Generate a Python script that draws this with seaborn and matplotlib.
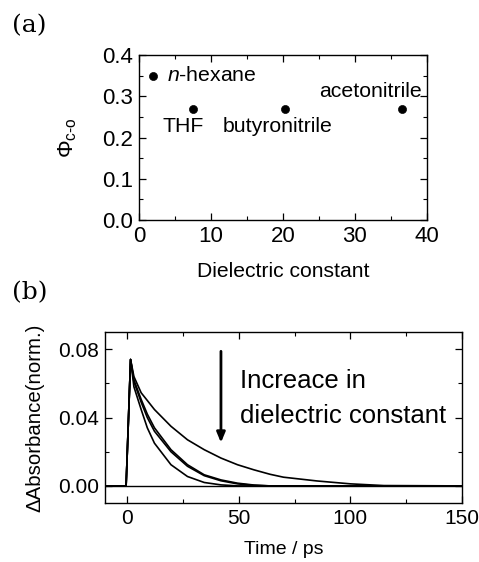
"""
two panels: quantum yield vs dielectric constant, and normalised transient absorption decays
"""

import numpy as np
import pandas as pd
import matplotlib
matplotlib.use("Agg")
import matplotlib.pyplot as plt
import seaborn as sns
from matplotlib.ticker import MultipleLocator

# panel (a) data
solvents = ["n-hexane", "THF", "butyronitrile", "acetonitrile"]
dielectric = [1.9, 7.5, 20.3, 36.6]
phi_co = [0.35, 0.27, 0.27, 0.27]

# panel (b) data
time_ps = [-10, -0.5, 1.5, 3, 6.25, 9, 12.2, 19.6, 27, 34.5, 42, 49.4, 56.8, 64, 70, 85, 100, 115, 150]
trace_hexane = [0, 0, 0.074, 0.064, 0.0545, 0.050, 0.0447, 0.0349, 0.027, 0.0212, 0.0163, 0.0124, 0.0094, 0.0068, 0.0051, 0.0029, 0.0012, 0.0002, 0]
trace_thf = [0, 0, 0.074, 0.062, 0.0506, 0.042, 0.034, 0.0212, 0.0124, 0.0065, 0.0035, 0.0016, 0.0005, 0, 0, 0, 0, 0, 0]
trace_butyro = [0, 0, 0.074, 0.061, 0.049, 0.040, 0.032, 0.020, 0.0115, 0.006, 0.003, 0.0012, 0.0003, 0, 0, 0, 0, 0, 0]
trace_aceto = [0, 0, 0.074, 0.058, 0.0447, 0.034, 0.025, 0.0124, 0.0055, 0.002, 0.0006, 0, 0, 0, 0, 0, 0, 0, 0]

sns.set_style("ticks")
plt.rcParams['font.family'] = ['Liberation Sans', 'DejaVu Sans']
plt.rcParams['mathtext.fontset'] = 'custom'
plt.rcParams['mathtext.rm'] = 'Liberation Sans'
plt.rcParams['mathtext.it'] = 'Liberation Sans:italic'
for key in ['text.color', 'axes.labelcolor', 'xtick.color', 'ytick.color', 'axes.edgecolor']:
    plt.rcParams[key] = 'black'

fig = plt.figure(figsize=(4.79, 5.62), dpi=100)
ax1 = fig.add_axes([0.290, 0.6085, 0.601, 0.2936])
ax2 = fig.add_axes([0.219, 0.105, 0.7455, 0.304])

# ---- panel (a)
dfa = pd.DataFrame({"solvent": solvents, "eps": dielectric, "phi": phi_co})
sns.scatterplot(data=dfa, x="eps", y="phi", ax=ax1, color="black", s=34, edgecolor="black", zorder=3)
ax1.set_xlim(0, 40)
ax1.set_ylim(0, 0.4)
ax1.xaxis.set_major_locator(MultipleLocator(10))
ax1.xaxis.set_minor_locator(MultipleLocator(5))
ax1.yaxis.set_major_locator(MultipleLocator(0.1))
ax1.yaxis.set_minor_locator(MultipleLocator(0.05))
ax1.yaxis.set_major_formatter(matplotlib.ticker.FormatStrFormatter('%.1f'))
ax1.set_xlabel("Dielectric constant", fontsize=15.2, labelpad=11)
ax1.set_ylabel("$\\Phi_{\\rm c\u2010o}$", fontsize=16, labelpad=17)

ax1.text(3.9, 0.35, "$\\it{n}$-hexane", fontsize=15.3, va="center", ha="left")
ax1.text(3.3, 0.226, "THF", fontsize=15.3, va="center", ha="left")
ax1.text(11.6, 0.226, "butyronitrile", fontsize=15.3, va="center", ha="left")
ax1.text(39.3, 0.311, "acetonitrile", fontsize=15.3, va="center", ha="right")

# ---- panel (b)
dfb = pd.DataFrame({
    "t": time_ps * 4,
    "dA": trace_hexane + trace_thf + trace_butyro + trace_aceto,
    "solvent": [s for s in solvents for _ in time_ps],
})
sns.lineplot(data=dfb, x="t", y="dA", hue="solvent", palette=["black"] * 4,
             estimator=None, legend=False, lw=1.2, ax=ax2)
ax2.axhline(0, color="black", lw=1.0)
ax2.set_xlim(-10, 150)
ax2.set_ylim(-0.01, 0.09)
ax2.xaxis.set_major_locator(MultipleLocator(50))
ax2.xaxis.set_minor_locator(MultipleLocator(25))
ax2.yaxis.set_major_locator(MultipleLocator(0.04))
ax2.yaxis.set_minor_locator(MultipleLocator(0.02))
ax2.yaxis.set_major_formatter(matplotlib.ticker.FormatStrFormatter('%.2f'))
ax2.set_xlabel("Time / ps", fontsize=14, labelpad=10)
ax2.set_ylabel("\u0394Absorbance(norm.)", fontsize=14.7, labelpad=10)

ax2.annotate("", xy=(42, 0.0237), xytext=(42, 0.0804),
             arrowprops=dict(arrowstyle="-|>,head_length=0.6,head_width=0.25", color="black", lw=2))
ax2.text(50.5, 0.0614, "Increace in", fontsize=18.5, va="center", ha="left")
ax2.text(50.5, 0.0408, "dielectric constant", fontsize=18.5, va="center", ha="left")

for ax, fs in [(ax1, 16), (ax2, 15)]:
    ax.tick_params(which="both", direction="in", top=True, right=True, labelsize=fs, pad=4,
                   color="black", labelcolor="black")
    ax.tick_params(which="major", length=5, width=0.9)
    ax.tick_params(which="minor", length=3, width=0.8)
    for sp in ax.spines.values():
        sp.set_linewidth(1.0)
        sp.set_color("black")

fig.text(0.025, 0.955, "(a)", fontsize=18, family="DejaVu Serif", va="center")
fig.text(0.025, 0.48, "(b)", fontsize=18, family="DejaVu Serif", va="center")

fig.savefig("out.png", dpi=100)
